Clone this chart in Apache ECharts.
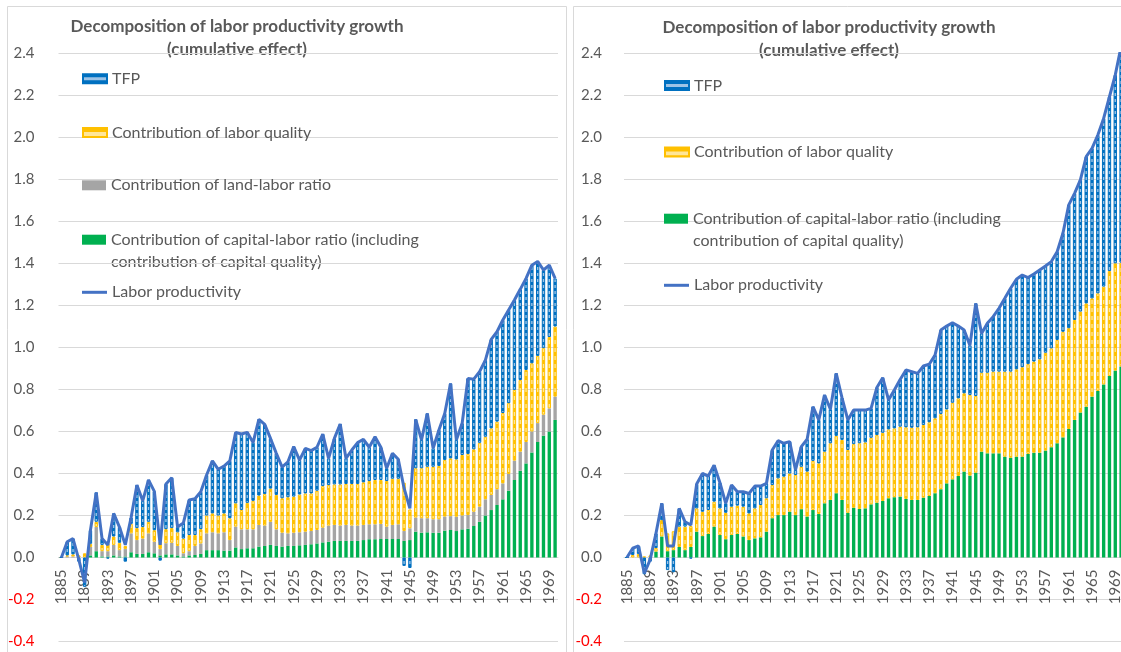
<!DOCTYPE html>
<html>
<head>
<meta charset="UTF-8">
<title>Decomposition of labor productivity growth</title>
<script src="https://cdn.jsdelivr.net/npm/echarts@6.0.0/dist/echarts.min.js"></script>
<style>
  html, body { margin: 0; padding: 0; background: #fff; }
  #main { width: 1121px; height: 652px; }
</style>
</head>
<body>
<div id="main"></div>
<script>
// categories: one bar per year
var years = [];
for (var yr = 1885; yr <= 1970; yr++) years.push(String(yr));

// y axis range
var yMin = -0.4, yMax = 2.4, yStep = 0.2;

// left chart (with land-labor ratio)
var leftCapital = [
  0, 0, 0, 0, 0, 0.01, 0.03, 0.005, 0.005, 0.01,
  0.005, 0.005, 0.025, 0.017, 0.017, 0.025, 0.02, 0.01, 0.015, 0.015,
  0.01, 0.005, 0.01, 0.012, 0.017, 0.035, 0.035, 0.035, 0.033, 0.033,
  0.048, 0.04, 0.044, 0.044, 0.052, 0.055, 0.06, 0.055, 0.052, 0.055,
  0.055, 0.058, 0.06, 0.063, 0.067, 0.072, 0.075, 0.079, 0.079, 0.079,
  0.079, 0.079, 0.083, 0.087, 0.087, 0.088, 0.088, 0.088, 0.088, 0.079,
  0.083, 0.123, 0.118, 0.12, 0.118, 0.118, 0.128, 0.131, 0.126, 0.134,
  0.137, 0.15, 0.17, 0.2, 0.226, 0.25, 0.277, 0.318, 0.369, 0.413,
  0.448, 0.5, 0.55, 0.58, 0.6, 0.655
];
var leftLand = [
  0, 0.005, 0.005, 0, 0, 0.04, 0.115, 0.025, 0.025, 0.05,
  0.03, 0.035, 0.09, 0.066, 0.073, 0.09, 0.055, 0.03, 0.053, 0.055,
  0.045, 0.015, 0.02, 0.043, 0.05, 0.08, 0.085, 0.08, 0.087, 0.05,
  0.099, 0.094, 0.09, 0.09, 0.103, 0.097, 0.11, 0.079, 0.066, 0.06,
  0.063, 0.062, 0.063, 0.063, 0.064, 0.07, 0.077, 0.076, 0.073, 0.076,
  0.073, 0.073, 0.072, 0.071, 0.071, 0.072, 0.059, 0.067, 0.07, 0.047,
  0.056, 0.067, 0.069, 0.067, 0.064, 0.064, 0.067, 0.066, 0.068, 0.066,
  0.065, 0.068, 0.072, 0.077, 0.072, 0.075, 0.076, 0.08, 0.092, 0.091,
  0.102, 0.1, 0.09, 0.1, 0.11, 0.111
];
var leftQuality = [
  0, 0.005, 0.01, 0.01, 0.02, 0.015, 0.025, 0.03, 0.035, 0.04,
  0.035, 0.015, 0.045, 0.057, 0.055, 0.055, 0.055, 0.035, 0.067, 0.07,
  0.065, 0.07, 0.077, 0.052, 0.068, 0.085, 0.09, 0.085, 0.09, 0.104,
  0.111, 0.092, 0.126, 0.136, 0.14, 0.15, 0.158, 0.164, 0.164, 0.172,
  0.172, 0.18, 0.182, 0.179, 0.187, 0.198, 0.193, 0.193, 0.196, 0.195,
  0.198, 0.198, 0.203, 0.206, 0.211, 0.209, 0.217, 0.22, 0.217, 0.23,
  0.09, 0.235, 0.238, 0.245, 0.25, 0.254, 0.269, 0.275, 0.273, 0.288,
  0.291, 0.297, 0.304, 0.298, 0.317, 0.322, 0.335, 0.337, 0.337, 0.341,
  0.343, 0.325, 0.32, 0.317, 0.34, 0.334
];
var leftTFP = [
  0, 0.065, 0.075, -0.02, -0.14, 0.065, 0.14, 0.03, -0.005, 0.11,
  0.075, -0.02, 0.03, 0.205, 0.125, 0.2, 0.185, -0.015, 0.215, 0.24,
  0.025, 0.075, 0.167, 0.173, 0.178, 0.193, 0.25, 0.22, 0.225, 0.273,
  0.337, 0.362, 0.336, 0.277, 0.363, 0.332, 0.239, 0.198, 0.148, 0.169,
  0.238, 0.164, 0.215, 0.204, 0.207, 0.248, 0.127, 0.219, 0.288, 0.122,
  0.162, 0.197, 0.205, 0.161, 0.206, 0.156, 0.061, 0.121, 0.093, -0.04,
  -0.05, 0.233, 0.135, 0.254, 0.088, 0.171, 0.222, 0.357, 0.093, 0.151,
  0.36, 0.334, 0.339, 0.365, 0.424, 0.428, 0.443, 0.444, 0.428, 0.432,
  0.436, 0.467, 0.45, 0.372, 0.342, 0.229
];
var leftProductivity = [
  0, 0.075, 0.09, -0.01, -0.12, 0.13, 0.31, 0.09, 0.06, 0.21,
  0.145, 0.06, 0.19, 0.345, 0.27, 0.37, 0.315, 0.06, 0.35, 0.38,
  0.145, 0.165, 0.274, 0.28, 0.313, 0.393, 0.46, 0.42, 0.435, 0.46,
  0.595, 0.588, 0.596, 0.547, 0.658, 0.634, 0.567, 0.496, 0.43, 0.456,
  0.528, 0.464, 0.52, 0.509, 0.525, 0.588, 0.472, 0.567, 0.636, 0.472,
  0.512, 0.547, 0.563, 0.525, 0.575, 0.525, 0.425, 0.496, 0.468, 0.33,
  0.234, 0.658, 0.56, 0.686, 0.52, 0.607, 0.686, 0.829, 0.56, 0.639,
  0.853, 0.849, 0.885, 0.94, 1.039, 1.075, 1.131, 1.179, 1.226, 1.277,
  1.329, 1.392, 1.41, 1.369, 1.392, 1.329
];

// right chart (no land-labor ratio)
var rightCapital = [
  0, 0, 0, 0, 0, 0.028, 0.1, 0.03, 0.035, 0.05,
  0.035, 0.05, 0.123, 0.102, 0.112, 0.147, 0.107, 0.087, 0.107, 0.112,
  0.1, 0.083, 0.091, 0.096, 0.123, 0.187, 0.202, 0.202, 0.218, 0.202,
  0.23, 0.195, 0.226, 0.207, 0.258, 0.274, 0.306, 0.274, 0.213, 0.237,
  0.231, 0.234, 0.253, 0.261, 0.269, 0.282, 0.287, 0.29, 0.279, 0.274,
  0.274, 0.285, 0.293, 0.306, 0.325, 0.353, 0.372, 0.388, 0.409, 0.39,
  0.404, 0.504, 0.496, 0.496, 0.496, 0.48, 0.475, 0.48, 0.48, 0.493,
  0.499, 0.499, 0.509, 0.525, 0.544, 0.572, 0.612, 0.655, 0.69, 0.718,
  0.766, 0.793, 0.824, 0.864, 0.89, 0.91
];
var rightQuality = [
  0, 0.012, 0.017, 0.005, 0.01, 0.017, 0.078, 0.085, 0.09, 0.097,
  0.112, 0.1, 0.111, 0.116, 0.114, 0.119, 0.127, 0.126, 0.135, 0.135,
  0.142, 0.127, 0.143, 0.154, 0.159, 0.158, 0.175, 0.183, 0.182, 0.191,
  0.202, 0.214, 0.234, 0.241, 0.246, 0.27, 0.273, 0.286, 0.299, 0.303,
  0.313, 0.314, 0.317, 0.322, 0.325, 0.328, 0.328, 0.333, 0.341, 0.344,
  0.346, 0.346, 0.351, 0.357, 0.358, 0.352, 0.365, 0.37, 0.373, 0.384,
  0.365, 0.376, 0.384, 0.389, 0.389, 0.405, 0.41, 0.416, 0.426, 0.428,
  0.434, 0.445, 0.466, 0.471, 0.492, 0.503, 0.48, 0.476, 0.481, 0.492,
  0.468, 0.465, 0.466, 0.5, 0.511, 0.494
];
var rightTFP = [
  0, 0.032, 0.038, -0.08, -0.02, 0.07, 0.08, -0.06, -0.07, 0.087,
  0.023, -0.005, 0.116, 0.182, 0.162, 0.174, 0.122, 0.045, 0.103, 0.066,
  0.071, 0.095, 0.106, 0.09, 0.071, 0.167, 0.179, 0.159, 0.152, 0.024,
  0.096, 0.154, 0.258, 0.207, 0.27, 0.162, 0.298, 0.2, 0.143, 0.162,
  0.158, 0.154, 0.14, 0.227, 0.262, 0.14, 0.183, 0.225, 0.273, 0.267,
  0.257, 0.281, 0.276, 0.301, 0.4, 0.397, 0.381, 0.344, 0.301, 0.236,
  0.441, 0.187, 0.235, 0.262, 0.302, 0.349, 0.397, 0.429, 0.439, 0.412,
  0.417, 0.425, 0.413, 0.413, 0.42, 0.469, 0.587, 0.603, 0.627, 0.699,
  0.714, 0.754, 0.801, 0.83, 0.897, 1.029
];
var rightProductivity = [
  0, 0.044, 0.055, -0.075, -0.01, 0.115, 0.258, 0.055, 0.055, 0.234,
  0.17, 0.155, 0.35, 0.4, 0.388, 0.44, 0.356, 0.258, 0.345, 0.313,
  0.313, 0.305, 0.34, 0.34, 0.353, 0.512, 0.556, 0.544, 0.552, 0.417,
  0.528, 0.563, 0.718, 0.655, 0.774, 0.706, 0.877, 0.76, 0.655, 0.702,
  0.702, 0.702, 0.71, 0.81, 0.856, 0.75, 0.798, 0.848, 0.893, 0.885,
  0.877, 0.912, 0.92, 0.964, 1.083, 1.102, 1.118, 1.102, 1.083, 1.01,
  1.21, 1.067, 1.115, 1.147, 1.187, 1.234, 1.282, 1.325, 1.345, 1.333,
  1.35, 1.369, 1.388, 1.409, 1.456, 1.544, 1.679, 1.734, 1.798, 1.909,
  1.948, 2.012, 2.091, 2.194, 2.298, 2.433
];

var FONT = 'Lato';
var TEXT = '#595959';
var GRIDLINE = '#D9D9D9';

var N_TFP = 'TFP';
var N_QUAL = 'Contribution of labor quality';
var N_LAND = 'Contribution of land-labor ratio';
var N_CAP = 'Contribution of capital-labor ratio (including';
var N_CAP2 = 'contribution of capital quality)';
var N_LP = 'Labor productivity';

// small repeating fills that imitate the Excel patterns
function stripes(bg, fg, h, dash) {
  var c = document.createElement('canvas');
  c.width = 4; c.height = h;
  var ctx = c.getContext('2d');
  ctx.fillStyle = bg; ctx.fillRect(0, 0, 4, h);
  ctx.fillStyle = fg; ctx.fillRect(0, 0, 4, dash);
  return { image: c, repeat: 'repeat' };
}
var tfpFill = stripes('#9DC3E6', '#0070C0', 6, 3);
var qualFill = stripes('#FFE699', '#FFC000', 8, 4);

function bar(name, data, idx, style) {
  return {
    type: 'bar', name: name, data: data,
    xAxisIndex: idx, yAxisIndex: idx, stack: 'panel' + idx,
    barWidth: '58%',
    itemStyle: style,
    emphasis: { disabled: true }
  };
}
function line(data, idx) {
  return {
    type: 'line', name: N_LP, data: data,
    xAxisIndex: idx, yAxisIndex: idx,
    symbol: 'none',
    lineStyle: { color: '#4472C4', width: 3 },
    itemStyle: { color: '#4472C4' },
    emphasis: { disabled: true }, z: 5
  };
}
var capStyle = { color: '#00B050' };
var landStyle = { color: '#A5A5A5' };
var qualStyle = { color: qualFill, borderColor: '#FFC000', borderWidth: 1 };
var tfpStyle = { color: tfpFill, borderColor: '#0070C0', borderWidth: 1 };

function legendItem(name, left, cy, w, h) {
  return {
    left: left, top: cy - 10, padding: 0,
    itemWidth: w, itemHeight: h, itemGap: 0,
    selectedMode: false,
    data: [{ name: name, icon: 'rect' }],
    textStyle: { fontFamily: FONT, fontSize: 16, color: TEXT, lineHeight: 20 }
  };
}

function xAxis(idx) {
  return {
    type: 'category', gridIndex: idx, data: years,
    offset: -84,
    axisTick: { show: false },
    axisLine: { onZero: false, lineStyle: { color: GRIDLINE } },
    axisLabel: { interval: 3, rotate: 90, margin: 12, color: TEXT, fontFamily: FONT, fontSize: 15 }
  };
}
function yAxis(idx, margin) {
  return {
    type: 'value', gridIndex: idx, min: yMin, max: yMax, interval: yStep,
    axisLine: { show: false }, axisTick: { show: false },
    splitLine: { lineStyle: { color: GRIDLINE, width: 1 } },
    axisLabel: {
      margin: margin, fontFamily: FONT, fontSize: 15,
      formatter: function (v) { return Math.abs(v) < 1e-9 ? '0.0' : Number(v).toFixed(1); },
      color: function (v) { return Number(v) < -0.01 ? '#FF0000' : TEXT; }
    }
  };
}
function titleText(x, y, text) {
  return {
    type: 'text', x: x, y: y, silent: true,
    style: { text: text, textAlign: 'center', textVerticalAlign: 'middle',
      fill: TEXT, font: 'bold 17px ' + FONT }
  };
}
function plainText(x, y, text) {
  return {
    type: 'text', x: x, y: y, silent: true,
    style: { text: text, textAlign: 'left', textVerticalAlign: 'middle',
      fill: TEXT, font: '16px ' + FONT }
  };
}

var chart = echarts.init(document.getElementById('main'));
chart.setOption({
  animation: false,
  backgroundColor: '#fff',
  grid: [
    { left: 58.5, top: 53.5, width: 499.5, height: 588, outerBoundsMode: 'none' },
    { left: 624, top: 53.5, width: 500, height: 588, outerBoundsMode: 'none' }
  ],
  xAxis: [xAxis(0), xAxis(1)],
  yAxis: [yAxis(0, 24), yAxis(1, 22)],
  legend: [
    legendItem(N_TFP, 82, 78.7, 24, 9),
    legendItem(N_QUAL, 82, 132.5, 24, 9),
    legendItem(N_LAND, 82, 185.3, 24, 10),
    legendItem(N_CAP, 82, 239.7, 24, 10),
    legendItem(N_LP, 82, 292.3, 25, 3),
    legendItem(N_TFP, 664, 85.5, 24, 9),
    legendItem(N_QUAL, 664, 152, 24, 9),
    legendItem(N_CAP, 664, 218.7, 24, 10),
    legendItem(N_LP, 664, 285.3, 25, 3)
  ],
  graphic: [
    { type: 'rect', silent: true, shape: { x: 7.5, y: 6.5, width: 559, height: 700 },
      style: { fill: 'none', stroke: GRIDLINE, lineWidth: 1 } },
    { type: 'rect', silent: true, shape: { x: 573.5, y: 6.5, width: 600, height: 700 },
      style: { fill: 'none', stroke: GRIDLINE, lineWidth: 1 } },
    titleText(237, 27, 'Decomposition of labor productivity growth'),
    titleText(237, 50, '(cumulative effect)'),
    titleText(829, 28, 'Decomposition of labor productivity growth'),
    titleText(829, 51, '(cumulative effect)'),
    plainText(111, 262, N_CAP2),
    plainText(693, 241, N_CAP2)
  ],
  series: [
    bar(N_CAP, leftCapital, 0, capStyle),
    bar(N_LAND, leftLand, 0, landStyle),
    bar(N_QUAL, leftQuality, 0, qualStyle),
    bar(N_TFP, leftTFP, 0, tfpStyle),
    line(leftProductivity, 0),
    bar(N_CAP, rightCapital, 1, capStyle),
    bar(N_QUAL, rightQuality, 1, qualStyle),
    bar(N_TFP, rightTFP, 1, tfpStyle),
    line(rightProductivity, 1)
  ]
});
</script>
</body>
</html>
